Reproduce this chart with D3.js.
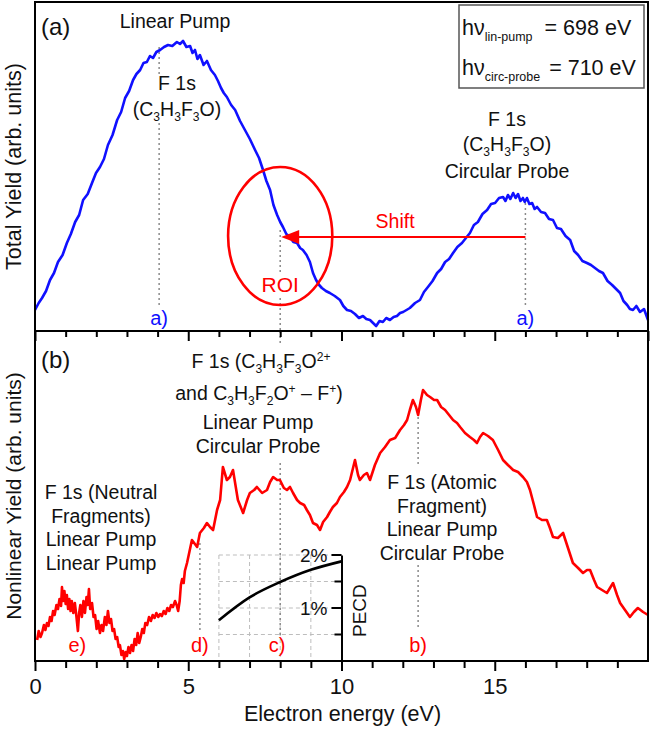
<!DOCTYPE html>
<html>
<head>
<meta charset="utf-8">
<script src="https://cdn.jsdelivr.net/npm/d3@7/dist/d3.min.js"></script>
<style>
html,body{margin:0;padding:0;background:#fff;}
svg{display:block;font-family:Arial,"Liberation Sans",sans-serif;}
</style>
</head>
<body>
<svg id="chart" width="650" height="729"></svg>
<script>
// ---------- data ----------
const energyBlue = [0.00,0.12,0.23,0.36,0.49,0.62,0.75,0.90,1.04,1.17,1.31,1.44,1.57,1.72,1.86,1.99,2.12,2.25,2.38,2.53,2.68,2.81,2.94,3.07,3.20,3.31,3.43,3.54,3.65,3.75,3.85,3.96,4.08,4.21,4.34,4.48,4.63,4.73,4.83,4.94,5.06,5.14,5.22,5.30,5.38,5.50,5.61,5.74,5.87,5.97,6.07,6.16,6.26,6.40,6.53,6.69,6.85,7.01,7.18,7.31,7.44,7.55,7.67,7.78,7.90,8.00,8.09,8.20,8.32,8.43,8.55,8.65,8.74,8.86,8.97,9.07,9.17,9.27,9.36,9.49,9.62,9.78,9.95,10.06,10.18,10.31,10.44,10.57,10.70,10.81,10.93,11.03,11.13,11.24,11.35,11.46,11.58,11.70,11.81,11.91,12.01,12.12,12.23,12.40,12.56,12.69,12.82,12.97,13.12,13.25,13.38,13.51,13.64,13.78,13.93,14.06,14.19,14.32,14.45,14.60,14.75,14.88,15.01,15.14,15.27,15.35,15.43,15.51,15.60,15.68,15.76,15.84,15.92,15.98,16.05,16.13,16.22,16.30,16.38,16.51,16.64,16.77,16.90,17.03,17.16,17.31,17.46,17.59,17.72,17.86,18.01,18.14,18.27,18.40,18.53,18.68,18.83,18.96,19.09,19.20,19.32,19.41,19.51,19.62,19.74,19.87,20.00];
const yieldBlue  = [21,28,33,40,51,58,69,76,88,97,109,116,131,137,148,158,164,172,186,196,211,219,233,240,251,257,261,268,269,275,273,279,281,284,286,285,289,287,290,284,285,278,281,272,276,266,270,261,256,250,243,238,234,226,221,210,201,192,181,173,161,150,141,126,116,109,104,97,94,89,88,83,81,76,69,58,51,46,43,40,38,35,31,25,21,20,17,13,15,12,11,8,5,10,9,13,11,14,15,18,19,21,23,28,31,39,44,50,58,62,69,72,78,84,88,93,98,106,109,117,121,127,128,133,134,130,136,132,138,133,137,130,133,129,133,127,128,122,124,119,118,112,111,103,102,95,91,80,76,70,68,66,63,60,58,50,46,42,38,30,26,22,21,25,19,22,11];

const energyRed = [0.07,0.12,0.18,0.23,0.29,0.34,0.39,0.44,0.49,0.54,0.59,0.64,0.70,0.75,0.80,0.85,0.88,0.92,0.96,1.00,1.04,1.08,1.12,1.16,1.20,1.25,1.30,1.35,1.40,1.44,1.48,1.53,1.58,1.63,1.68,1.72,1.76,1.80,1.86,1.91,1.96,2.01,2.06,2.12,2.17,2.22,2.28,2.33,2.38,2.43,2.48,2.53,2.58,2.63,2.68,2.73,2.77,2.82,2.87,2.91,2.96,3.00,3.05,3.10,3.15,3.20,3.25,3.30,3.35,3.40,3.45,3.50,3.55,3.60,3.66,3.72,3.78,3.84,3.90,3.96,4.02,4.08,4.14,4.20,4.26,4.32,4.38,4.44,4.50,4.57,4.62,4.67,4.72,4.76,4.80,4.85,4.89,
  4.96,5.12,5.29,5.38,5.51,5.61,5.71,5.81,5.94,6.04,6.13,6.26,6.36,6.46,6.62,6.79,6.92,7.01,7.15,7.24,7.41,7.57,7.67,7.77,7.90,7.99,8.12,8.22,8.32,8.42,8.55,8.65,8.78,8.87,8.97,9.07,9.20,9.30,9.40,9.53,9.62,9.72,9.85,9.95,10.08,10.18,10.28,10.44,10.54,10.60,10.73,10.83,10.93,11.09,11.26,11.42,11.58,11.75,11.91,12.04,12.14,12.23,12.33,12.43,12.50,12.59,12.66,12.79,12.89,13.02,13.12,13.25,13.38,13.51,13.64,13.77,13.87,14.03,14.19,14.32,14.42,14.52,14.62,14.78,14.94,15.11,15.27,15.43,15.60,15.76,15.92,16.05,16.15,16.28,16.38,16.54,16.70,16.80,16.90,17.06,17.23,17.39,17.55,17.72,17.88,18.01,18.11,18.24,18.34,18.50,18.66,18.76,18.86,18.99,19.09,19.25,19.41,19.54,19.67,19.84,20.00];
const yieldRed  = [21,30,24,28,36,31,38,35,44,40,50,46,56,52,62,55,74,60,70,57,66,52,62,50,60,48,58,45,30,48,56,44,60,48,64,56,72,52,58,44,46,32,40,28,36,30,44,36,50,38,42,30,32,22,24,14,16,6,10,2,9,5,14,8,16,10,22,16,28,18,24,32,28,38,36,44,40,46,43,48,44,47,45,50,47,53,50,56,54,60,56,50,60,76,82,78,90,
  98,121,114,128,133,138,134,131,151,161,194,181,184,191,161,148,161,168,171,174,168,171,179,184,181,181,173,171,174,168,161,158,156,151,146,138,136,131,139,144,149,154,158,164,169,174,181,201,186,181,186,188,181,196,208,214,221,223,231,236,241,251,261,254,246,261,271,266,264,261,261,254,251,246,241,238,234,228,224,221,218,224,228,225,221,211,201,196,191,189,184,179,171,156,144,141,141,133,124,123,128,113,98,93,88,91,91,81,74,71,68,73,78,66,58,51,44,49,53,49,46];

const pecdEnergy = [6,7,8,9,10];
const pecdValues = [0.77,1.20,1.49,1.72,1.88];

const xMajorTicks = [0,5,10,15];
const xMinorTicks = [1,2,3,4,6,7,8,9,11,12,13,14,16,17,18,19];
const pecdTicks = [0.5,1,1.5,2];
const pecdTickLabels = ["", "1%", "", "2%"];

// ---------- layout ----------
const L = 35, R = 648, TA = 2, MID = 331, BOT = 661;
const svg = d3.select("#chart");
const x  = d3.scaleLinear().domain([0,20]).range([L,R]);
const yA = d3.scaleLinear().domain([0,329]).range([MID,TA]);
const yB = d3.scaleLinear().domain([0,330]).range([BOT,MID]);
const yP = d3.scaleLinear().domain([0,2]).range([BOT,555]);

const BLUE = "#1010ff", RED = "#ff0000", TXT = "#111", GREY = "#8a8a8a";

function rich(g, cx, cy, parts, size, anchor, color, subScale, subDrop){
  const sc = subScale || 0.62;
  const drop = subDrop || 0.26;
  const t = g.append("text").attr("x",cx).attr("y",cy)
    .attr("font-size",size).attr("text-anchor",anchor||"middle").attr("fill",color||TXT);
  let shift = 0;
  parts.forEach(p=>{
    const s = t.append("tspan").text(p.t);
    let target = 0, fs = size;
    if(p.sub){ target = size*drop; fs = size*sc; }
    if(p.sup){ target = -size*0.38; fs = size*sc; }
    s.attr("font-size",fs).attr("dy",target-shift);
    if(p.dx) s.attr("dx",p.dx);
    shift = target;
  });
  return t;
}

// ---------- inset grid (behind) ----------
const inset = svg.append("g");
[6,7,8,9].forEach(e=>{
  inset.append("line").attr("x1",x(e)).attr("x2",x(e)).attr("y1",yP(2)).attr("y2",yP(0))
    .attr("stroke","#bdbdbd").attr("stroke-width",1).attr("stroke-dasharray","4,3");
});
pecdTicks.forEach(v=>{
  inset.append("line").attr("x1",x(6)).attr("x2",x(10)).attr("y1",yP(v)).attr("y2",yP(v))
    .attr("stroke","#bdbdbd").attr("stroke-width",1).attr("stroke-dasharray","4,3");
});

// ---------- dotted guide lines ----------
const guides = svg.append("g").attr("stroke",GREY).attr("stroke-width",1.5).attr("stroke-dasharray","2,3");
function vseg(e, scale, v1, v2){
  guides.append("line").attr("x1",x(e)).attr("x2",x(e)).attr("y1",scale(v1)).attr("y2",scale(v2));
}
vseg(4.05, yA, 284, 255); vseg(4.05, yA, 208, 24);
vseg(8.0, yA, 101, 58); vseg(8.0, yA, 33, 0);
vseg(16.0, yA, 128, 26);
vseg(8.0, yB, 330, 315); vseg(8.0, yB, 198, 25);
vseg(5.38, yB, 118, 31);
vseg(12.5, yB, 244, 194); vseg(12.5, yB, 96, 34);

// ---------- curves ----------
const lineA = d3.line().x((d,i)=>x(energyBlue[i])).y(d=>yA(d));
svg.append("path").datum(yieldBlue).attr("d",lineA).attr("fill","none")
  .attr("stroke",BLUE).attr("stroke-width",2.6).attr("stroke-linejoin","round");
const lineB = d3.line().x((d,i)=>x(energyRed[i])).y(d=>yB(d));
svg.append("path").datum(yieldRed).attr("d",lineB).attr("fill","none")
  .attr("stroke",RED).attr("stroke-width",2.6).attr("stroke-linejoin","round");
const lineP = d3.line().curve(d3.curveMonotoneX).x((d,i)=>x(pecdEnergy[i])).y(d=>yP(d));
svg.append("path").datum(pecdValues).attr("d",lineP).attr("fill","none")
  .attr("stroke","#000").attr("stroke-width",2.6);

// ---------- inset axis ----------
const pAxis = svg.append("g").attr("transform",`translate(${x(10)},0)`);
pAxis.call(d3.axisLeft(yP).tickValues(pecdTicks).tickSize(0).tickFormat(""));
pAxis.select(".domain").attr("stroke","#000").attr("stroke-width",2);
pecdTicks.forEach((v,i)=>{
  const len = pecdTickLabels[i] ? 10 : 7;
  pAxis.append("line").attr("x1",0).attr("x2",-len).attr("y1",yP(v)).attr("y2",yP(v))
    .attr("stroke","#000").attr("stroke-width",2);
  if(pecdTickLabels[i]){
    pAxis.append("text").attr("x",-14).attr("y",yP(v)+7).attr("text-anchor","end")
      .attr("font-size",19).attr("fill",TXT).text(pecdTickLabels[i]);
  }
});
svg.append("text").attr("transform",`translate(${x(10)+24},${yP(0.95)}) rotate(-90)`)
  .attr("text-anchor","middle").attr("font-size",19).attr("fill",TXT).text("PECD");

// ---------- ROI ellipse and arrow ----------
svg.append("ellipse").attr("cx",x(8.0)).attr("cy",yA(95))
  .attr("rx",x(8.0+1.7)-x(8.0)).attr("ry",yA(0)-yA(69))
  .attr("fill","none").attr("stroke",RED).attr("stroke-width",2.6);
const ay = yA(94);
svg.append("line").attr("x1",x(16.0)).attr("x2",x(8.0)+14).attr("y1",ay).attr("y2",ay)
  .attr("stroke",RED).attr("stroke-width",2);
svg.append("path").attr("d",`M${x(8.0)+1},${ay} L${x(8.0)+19},${ay-7} L${x(8.0)+19},${ay+7} Z`)
  .attr("fill",RED);
svg.append("text").attr("x",x(11.75)).attr("y",yA(103)).attr("text-anchor","middle")
  .attr("font-size",19.5).attr("fill",RED).text("Shift");
svg.append("text").attr("x",x(8.0)).attr("y",yA(39)).attr("text-anchor","middle")
  .attr("font-size",21).attr("fill",RED).text("ROI");

// ---------- frames and x axes ----------
const frame = svg.append("g").attr("fill","none").attr("stroke","#000").attr("stroke-width",2);
frame.append("rect").attr("x",L).attr("y",TA).attr("width",R-L).attr("height",BOT-TA);
frame.append("line").attr("x1",L).attr("x2",R).attr("y1",MID).attr("y2",MID);

function ticks(yPos, values, size, labels){
  const g = svg.append("g").attr("transform",`translate(0,${yPos})`);
  g.call(d3.axisBottom(x).tickValues(values).tickSize(size).tickPadding(7)
    .tickFormat(labels ? d3.format("d") : ""));
  g.select(".domain").remove();
  g.selectAll(".tick line").attr("stroke","#000").attr("stroke-width",2);
  g.selectAll(".tick text").attr("font-size",22).attr("fill",TXT)
    .attr("font-family","Arial, 'Liberation Sans', sans-serif");
  return g;
}
ticks(MID, xMinorTicks, 6, false);
ticks(MID, xMajorTicks.concat([20]), 10, false);
ticks(BOT, xMinorTicks, 7, false);
ticks(BOT, xMajorTicks, 10, true);

svg.append("text").attr("x",(L+R)/2+1).attr("y",721).attr("text-anchor","middle")
  .attr("font-size",21.5).attr("fill",TXT).text("Electron energy (eV)");
svg.append("text").attr("transform",`translate(21,${(TA+MID)/2}) rotate(-90)`)
  .attr("text-anchor","middle").attr("font-size",21.5).attr("fill",TXT).text("Total Yield (arb. units)");
svg.append("text").attr("transform",`translate(21,${(MID+BOT)/2}) rotate(-90)`)
  .attr("text-anchor","middle").attr("font-size",21).attr("fill",TXT).text("Nonlinear Yield (arb. units)");

// ---------- panel labels & annotations ----------
svg.append("text").attr("x",41).attr("y",35).attr("font-size",24).attr("fill",TXT).text("(a)");
svg.append("text").attr("x",41).attr("y",368).attr("font-size",24).attr("fill",TXT).text("(b)");

const FS = 19.5;
svg.append("text").attr("x",175).attr("y",28).attr("text-anchor","middle").attr("font-size",FS).attr("fill",TXT).text("Linear Pump");
rich(svg,177,90,[{t:"F 1s"}],FS);
rich(svg,177,116,[{t:"(C"},{t:"3",sub:1},{t:"H"},{t:"3",sub:1},{t:"F"},{t:"3",sub:1},{t:"O)"}],FS);

rich(svg,507,126,[{t:"F 1s"}],FS);
rich(svg,507,151,[{t:"(C"},{t:"3",sub:1},{t:"H"},{t:"3",sub:1},{t:"F"},{t:"3",sub:1},{t:"O)"}],FS);
rich(svg,507,178,[{t:"Circular Probe"}],FS);

rich(svg,261,368,[{t:"F 1s (C"},{t:"3",sub:1},{t:"H"},{t:"3",sub:1},{t:"F"},{t:"3",sub:1},{t:"O"},{t:"2+",sup:1}],FS);
rich(svg,259,400,[{t:"and C"},{t:"3",sub:1},{t:"H"},{t:"3",sub:1},{t:"F"},{t:"2",sub:1},{t:"O"},{t:"+",sup:1},{t:" \u2013 F"},{t:"+",sup:1},{t:")"}],FS);
rich(svg,258,429,[{t:"Linear Pump"}],FS);
rich(svg,258,453,[{t:"Circular Probe"}],FS);

["F 1s (Neutral","Fragments)","Linear Pump","Linear Pump"].forEach((s,i)=>{
  svg.append("text").attr("x",101).attr("y",499+i*23.7).attr("text-anchor","middle").attr("font-size",FS).attr("fill",TXT).text(s);
});
["F 1s (Atomic","Fragment)","Linear Pump","Circular Probe"].forEach((s,i)=>{
  svg.append("text").attr("x",442).attr("y",489+i*23.7).attr("text-anchor","middle").attr("font-size",FS).attr("fill",TXT).text(s);
});

// peak labels
svg.append("text").attr("x",x(4.05)).attr("y",325).attr("text-anchor","middle").attr("font-size",20).attr("fill",BLUE).text("a)");
svg.append("text").attr("x",x(16.0)).attr("y",325).attr("text-anchor","middle").attr("font-size",20).attr("fill",BLUE).text("a)");
[["e)",1.38],["d)",5.38],["c)",7.9],["b)",12.5]].forEach(d=>{
  svg.append("text").attr("x",x(d[1])).attr("y",652).attr("text-anchor","middle").attr("font-size",20).attr("fill",RED).text(d[0]);
});

// ---------- legend box ----------
const lg = svg.append("g");
lg.append("rect").attr("x",459).attr("y",5).attr("width",185).attr("height",83)
  .attr("fill","#fff").attr("stroke","#555").attr("stroke-width",1.5);
rich(lg,462,35,[{t:"h\u03bd"},{t:"lin-pump",sub:1},{t:"= 698 eV",dx:12}],21.5,"start",TXT,0.58,0.3);
rich(lg,462,75,[{t:"h\u03bd"},{t:"circ-probe",sub:1},{t:"= 710 eV",dx:9}],21.5,"start",TXT,0.58,0.3);
</script>
</body>
</html>
